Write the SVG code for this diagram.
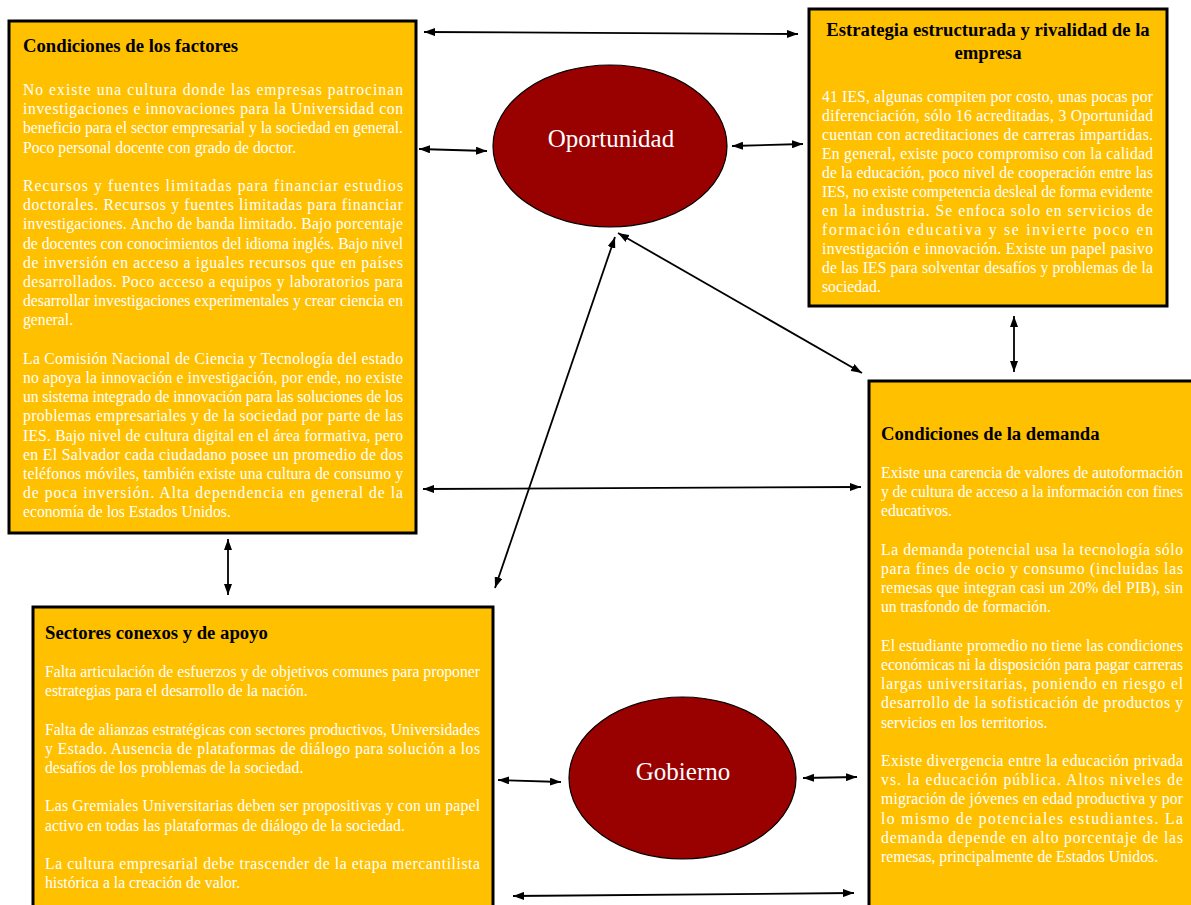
<svg xmlns="http://www.w3.org/2000/svg" width="1191" height="905" viewBox="0 0 1191 905">
<style>
.box{fill:#FFC000;stroke:#000;stroke-width:3}
.ell{fill:#990000;stroke:#000;stroke-width:1.2}
.ttl{font-family:"Liberation Serif","Times New Roman",serif;font-weight:bold;font-size:18.7px;fill:#000}
.bd{font-family:"Liberation Serif","Times New Roman",serif;font-size:15.7px;fill:#fff}
.el{font-family:"Liberation Serif","Times New Roman",serif;font-size:25px;fill:#fff;text-anchor:middle}
.ar{stroke:#000;stroke-width:1.8;fill:none;marker-start:url(#ah);marker-end:url(#ah)}
</style>
<defs>
<marker id="ah" markerUnits="userSpaceOnUse" markerWidth="11" markerHeight="8" refX="11" refY="4" orient="auto-start-reverse">
<path d="M0,0 L11,4 L0,8 z" fill="#000"/>
</marker>
</defs>
<rect width="1191" height="905" fill="#fff"/>

<g id="factores">
<rect class="box" x="9" y="21" width="407" height="512"/>
<text class="ttl" x="23" y="52">Condiciones de los factores</text>
<g class="bd">
<text x="23" y="95" textLength="380" lengthAdjust="spacing">No existe una cultura donde las empresas patrocinan</text>
<text x="23" y="114.2" textLength="380" lengthAdjust="spacing">investigaciones e innovaciones para la Universidad con</text>
<text x="23" y="133.4" textLength="380" lengthAdjust="spacing">beneficio para el sector empresarial y la sociedad en general.</text>
<text x="23" y="152.6">Poco personal docente con grado de doctor.</text>
<text x="23" y="191" textLength="380" lengthAdjust="spacing">Recursos y fuentes limitadas para financiar estudios</text>
<text x="23" y="210.2" textLength="380" lengthAdjust="spacing">doctorales. Recursos y fuentes limitadas para financiar</text>
<text x="23" y="229.4" textLength="380" lengthAdjust="spacing">investigaciones. Ancho de banda limitado. Bajo porcentaje</text>
<text x="23" y="248.6" textLength="380" lengthAdjust="spacing">de docentes con conocimientos del idioma inglés. Bajo nivel</text>
<text x="23" y="267.8" textLength="380" lengthAdjust="spacing">de inversión en acceso a iguales recursos que en países</text>
<text x="23" y="287" textLength="380" lengthAdjust="spacing">desarrollados. Poco acceso a equipos y laboratorios para</text>
<text x="23" y="306.2" textLength="380" lengthAdjust="spacing">desarrollar investigaciones experimentales y crear ciencia en</text>
<text x="23" y="325.4">general.</text>
<text x="23" y="363.8" textLength="380" lengthAdjust="spacing">La Comisión Nacional de Ciencia y Tecnología del estado</text>
<text x="23" y="383" textLength="380" lengthAdjust="spacing">no apoya la innovación e investigación, por ende, no existe</text>
<text x="23" y="402.2" textLength="380" lengthAdjust="spacing">un sistema integrado de innovación para las soluciones de los</text>
<text x="23" y="421.4" textLength="380" lengthAdjust="spacing">problemas empresariales y de la sociedad por parte de las</text>
<text x="23" y="440.6" textLength="380" lengthAdjust="spacing">IES. Bajo nivel de cultura digital en el área formativa, pero</text>
<text x="23" y="459.8" textLength="380" lengthAdjust="spacing">en El Salvador cada ciudadano posee un promedio de dos</text>
<text x="23" y="479" textLength="380" lengthAdjust="spacing">teléfonos móviles, también existe una cultura de consumo y</text>
<text x="23" y="498.2" textLength="380" lengthAdjust="spacing">de poca inversión. Alta dependencia en general de la</text>
<text x="23" y="517.4">economía de los Estados Unidos.</text>
</g>
</g>

<g id="estrategia">
<rect class="box" x="809" y="9" width="358" height="297"/>
<text class="ttl" x="988" y="36" text-anchor="middle">Estrategia estructurada y rivalidad de la</text>
<text class="ttl" x="988" y="59" text-anchor="middle">empresa</text>
<g class="bd">
<text x="822" y="102" textLength="331" lengthAdjust="spacing">41 IES, algunas compiten por costo, unas pocas por</text>
<text x="822" y="121" textLength="331" lengthAdjust="spacing">diferenciación, sólo 16 acreditadas, 3 Oportunidad</text>
<text x="822" y="140" textLength="331" lengthAdjust="spacing">cuentan con acreditaciones de carreras impartidas.</text>
<text x="822" y="159" textLength="331" lengthAdjust="spacing">En general, existe poco compromiso con la calidad</text>
<text x="822" y="178" textLength="331" lengthAdjust="spacing">de la educación, poco nivel de cooperación entre las</text>
<text x="822" y="197" textLength="331" lengthAdjust="spacing">IES, no existe competencia desleal de forma evidente</text>
<text x="822" y="216" textLength="331" lengthAdjust="spacing">en la industria. Se enfoca solo en servicios de</text>
<text x="822" y="235" textLength="331" lengthAdjust="spacing">formación educativa y se invierte poco en</text>
<text x="822" y="254" textLength="331" lengthAdjust="spacing">investigación e innovación. Existe un papel pasivo</text>
<text x="822" y="273" textLength="331" lengthAdjust="spacing">de las IES para solventar desafíos y problemas de la</text>
<text x="822" y="292">sociedad.</text>
</g>
</g>

<g id="demanda">
<rect class="box" x="869" y="381" width="330" height="540"/>
<text class="ttl" x="881" y="440">Condiciones de la demanda</text>
<g class="bd">
<text x="881" y="478" textLength="302" lengthAdjust="spacing">Existe una carencia de valores de autoformación</text>
<text x="881" y="497.2" textLength="302" lengthAdjust="spacing">y de cultura de acceso a la información con fines</text>
<text x="881" y="516.4">educativos.</text>
<text x="881" y="554.8" textLength="302" lengthAdjust="spacing">La demanda potencial usa la tecnología sólo</text>
<text x="881" y="574" textLength="302" lengthAdjust="spacing">para fines de ocio y consumo (incluidas las</text>
<text x="881" y="593.2" textLength="302" lengthAdjust="spacing">remesas que integran casi un 20% del PIB), sin</text>
<text x="881" y="612.4">un trasfondo de formación.</text>
<text x="881" y="650.8" textLength="302" lengthAdjust="spacing">El estudiante promedio no tiene las condiciones</text>
<text x="881" y="670" textLength="302" lengthAdjust="spacing">económicas ni la disposición para pagar carreras</text>
<text x="881" y="689.2" textLength="302" lengthAdjust="spacing">largas universitarias, poniendo en riesgo el</text>
<text x="881" y="708.4" textLength="302" lengthAdjust="spacing">desarrollo de la sofisticación de productos y</text>
<text x="881" y="727.6">servicios en los territorios.</text>
<text x="881" y="766" textLength="302" lengthAdjust="spacing">Existe divergencia entre la educación privada</text>
<text x="881" y="785.2" textLength="302" lengthAdjust="spacing">vs. la educación pública. Altos niveles de</text>
<text x="881" y="804.4" textLength="302" lengthAdjust="spacing">migración de jóvenes en edad productiva y por</text>
<text x="881" y="823.6" textLength="302" lengthAdjust="spacing">lo mismo de potenciales estudiantes. La</text>
<text x="881" y="842.8" textLength="302" lengthAdjust="spacing">demanda depende en alto porcentaje de las</text>
<text x="881" y="862">remesas, principalmente de Estados Unidos.</text>
</g>
</g>

<g id="sectores">
<rect class="box" x="33" y="607" width="460" height="310"/>
<text class="ttl" x="45" y="639">Sectores conexos y de apoyo</text>
<g class="bd">
<text x="45" y="677" textLength="435" lengthAdjust="spacing">Falta articulación de esfuerzos y de objetivos comunes para proponer</text>
<text x="45" y="696.2">estrategias para el desarrollo de la nación.</text>
<text x="45" y="734.6" textLength="435" lengthAdjust="spacing">Falta de alianzas estratégicas con sectores productivos, Universidades</text>
<text x="45" y="753.8" textLength="435" lengthAdjust="spacing">y Estado. Ausencia de plataformas de diálogo para solución a los</text>
<text x="45" y="773">desafíos de los problemas de la sociedad.</text>
<text x="45" y="811.4" textLength="435" lengthAdjust="spacing">Las Gremiales Universitarias deben ser propositivas y con un papel</text>
<text x="45" y="830.6">activo en todas las plataformas de diálogo de la sociedad.</text>
<text x="45" y="869" textLength="435" lengthAdjust="spacing">La cultura empresarial debe trascender de la etapa mercantilista</text>
<text x="45" y="888.2">histórica a la creación de valor.</text>
</g>
</g>

<g id="oportunidad">
<ellipse class="ell" cx="610" cy="146" rx="117" ry="81"/>
<text class="el" x="611" y="147">Oportunidad</text>
</g>

<g id="gobierno">
<ellipse class="ell" cx="682.5" cy="778" rx="113.5" ry="81"/>
<text class="el" x="683" y="780">Gobierno</text>
</g>

<g id="connectors">
<line class="ar" x1="424" y1="32" x2="798" y2="34"/>
<line class="ar" x1="419" y1="149" x2="487" y2="151"/>
<line class="ar" x1="732" y1="146" x2="803" y2="144"/>
<line class="ar" x1="1014" y1="316" x2="1014" y2="372"/>
<line class="ar" x1="618" y1="233" x2="862" y2="373"/>
<line class="ar" x1="615" y1="237" x2="495" y2="588"/>
<line class="ar" x1="423" y1="489" x2="861" y2="487"/>
<line class="ar" x1="228" y1="539" x2="228" y2="595"/>
<line class="ar" x1="498" y1="780" x2="561" y2="782"/>
<line class="ar" x1="803" y1="778" x2="857" y2="777"/>
<line class="ar" x1="513" y1="896" x2="854" y2="893"/>
</g>
</svg>
